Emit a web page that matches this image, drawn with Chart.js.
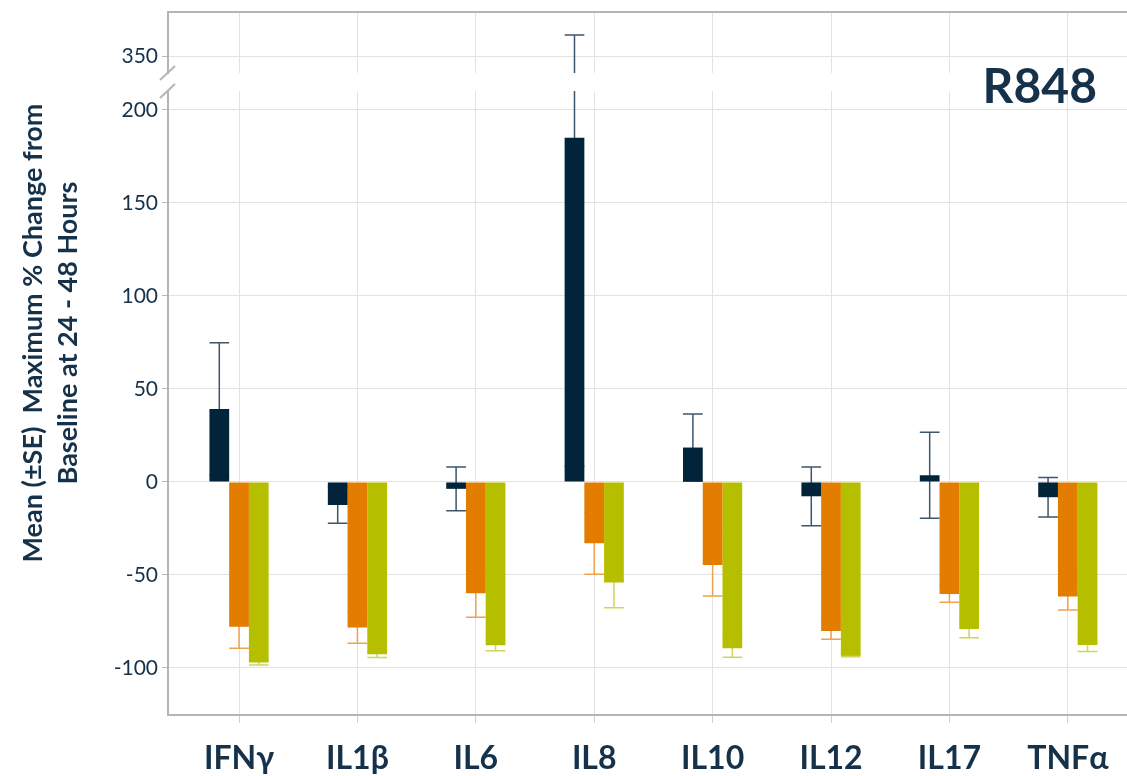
<!DOCTYPE html>
<html>
<head>
<meta charset="utf-8">
<script src="https://cdn.jsdelivr.net/npm/chart.js@4"></script>
<style>
  html, body { margin: 0; padding: 0; background: #fff; }
  #wrap { width: 1127px; height: 776px; }
</style>
</head>
<body>
<div id="wrap"><canvas id="cytoChart"></canvas></div>
<script>
const categories = ['IFNγ', 'IL1β', 'IL6', 'IL8', 'IL10', 'IL12', 'IL17', 'TNFα'];

const navyVals = [39.2, -12.4, -3.7, 185.0, 18.5, -7.7, 3.6, -8.2];
const navyErr = [35.7, 9.8, 11.8, 176.4, 18.1, 15.8, 23.1, 10.6];
const orangeVals = [-77.8, -78.3, -59.9, -33.0, -44.6, -80.1, -60.2, -61.6];
const orangeErr = [11.6, 8.4, 12.9, 16.6, 16.7, 4.5, 4.5, 7.2];
const greenVals = [-97.1, -92.7, -87.8, -54.1, -89.4, -93.5, -79.0, -87.6];
const greenErr = [1.3, 1.7, 2.9, 13.5, 4.9, 0.5, 4.7, 3.6];

const upperTicks = [350];
const lowerTicks = [-100, -50, 0, 50, 100, 150, 200];

const navy = '#02243a';
const textCol = '#15324a';
const axisGrey = '#b4b4b4';
const gridGrey = '#e2e2e2';

function toPoints(vals) {
    return vals.map((v, i) => ({ x: i + 1, y: v }));
}

// error bars, split across the broken axis
const errorBars = {
    id: 'errorBars',
    beforeDatasetsDraw(chart) {
        const ctx = chart.ctx;
        const area = chart.chartArea;
        const yLow = chart.scales.y;
        const yTop = chart.scales.yTop;
        const gap = chart.scales.yGap;

        // blank out the gap band and add the top frame line
        ctx.save();
        ctx.fillStyle = '#fff';
        ctx.fillRect(area.left + 1, gap.top, area.right - area.left, gap.bottom - gap.top);
        ctx.strokeStyle = axisGrey;
        ctx.lineWidth = 2;
        ctx.beginPath();
        ctx.moveTo(area.left, area.top);
        ctx.lineTo(area.right, area.top);
        ctx.stroke();
        ctx.restore();

        const pix = v => v > yLow.max ? yTop.getPixelForValue(v) : yLow.getPixelForValue(v);

        chart.data.datasets.forEach((ds, di) => {
            const meta = chart.getDatasetMeta(di);
            ctx.save();
            ctx.strokeStyle = ds.errColor;
            ctx.lineWidth = 1.5;
            meta.data.forEach((bar, i) => {
                const v = ds.data[i].y;
                const e = ds.errs[i];
                const hi = v + e, lo = v - e;
                const x = bar.x;
                const half = bar.width / 2;
                ctx.beginPath();
                if (hi > yLow.max) {
                    ctx.moveTo(x, pix(lo));
                    ctx.lineTo(x, yLow.top);
                    ctx.moveTo(x, yTop.bottom);
                    ctx.lineTo(x, pix(hi));
                } else {
                    ctx.moveTo(x, pix(lo));
                    ctx.lineTo(x, pix(hi));
                }
                ctx.moveTo(x - half, pix(hi));
                ctx.lineTo(x + half, pix(hi));
                ctx.moveTo(x - half, pix(lo));
                ctx.lineTo(x + half, pix(lo));
                ctx.stroke();
            });
            ctx.restore();
        });
    },
    afterDraw(chart) {
        const ctx = chart.ctx;
        const area = chart.chartArea;
        const gap = chart.scales.yGap;

        // axis break marks
        ctx.save();
        ctx.strokeStyle = axisGrey;
        ctx.lineWidth = 2;
        [gap.top, gap.bottom].forEach(y => {
            ctx.beginPath();
            ctx.moveTo(area.left - 8, y + 7);
            ctx.lineTo(area.left + 7, y - 7);
            ctx.stroke();
        });

        // panel label
        ctx.fillStyle = textCol;
        ctx.font = 'bold 48px Lato';
        ctx.textAlign = 'right';
        ctx.textBaseline = 'alphabetic';
        ctx.fillText('R848', 1097, 103);

        // y axis title
        ctx.translate(50, 333);
        ctx.rotate(-Math.PI / 2);
        ctx.font = 'bold 27px Lato';
        ctx.textAlign = 'center';
        ctx.textBaseline = 'middle';
        ctx.fillText('Mean (±SE)  Maximum % Change from', 0, -17);
        ctx.fillText('Baseline at 24 - 48 Hours', 0, 18);
        ctx.restore();
    }
};

function fixWidth(scale) {
    scale.width = 78;
    scale.paddingTop = 0;
    scale.paddingBottom = 0;
}

function makeChart() {
    const ctx = document.getElementById('cytoChart').getContext('2d');
    new Chart(ctx, {
        type: 'bar',
        data: {
            datasets: [
                { label: 'Navy', data: toPoints(navyVals), errs: navyErr, yAxisID: 'y', backgroundColor: navy, errColor: '#3d566b' },
                { label: 'Orange', data: toPoints(orangeVals), errs: orangeErr, yAxisID: 'y', backgroundColor: '#e27d00', errColor: '#eea24f' },
                { label: 'Green', data: toPoints(greenVals), errs: greenErr, yAxisID: 'y', backgroundColor: '#b6be00', errColor: '#d0d55a' }
            ]
        },
        options: {
            responsive: true,
            maintainAspectRatio: false,
            animation: false,
            categoryPercentage: 0.5,
            barPercentage: 1.0,
            layout: { padding: { left: 90, top: 12, right: 0, bottom: 0 } },
            plugins: {
                legend: { display: false },
                tooltip: { enabled: false }
            },
            scales: {
                x: {
                    type: 'linear',
                    position: 'bottom',
                    offset: false,
                    min: 0.4,
                    max: 8.5,
                    afterFit: s => { s.height = 61; },
                    ticks: {
                        stepSize: 1,
                        includeBounds: false,
                        autoSkip: false,
                        maxRotation: 0,
                        padding: 16,
                        color: textCol,
                        font: { family: 'Lato', size: 32, weight: 'bold' },
                        callback: v => categories[v - 1] || ''
                    },
                    grid: { offset: false, color: gridGrey, tickLength: 8, tickColor: '#cfcfcf' },
                    border: { color: axisGrey, width: 2 }
                },
                yTop: {
                    type: 'linear',
                    position: 'left',
                    stack: 'v',
                    stackWeight: 61,
                    weight: 3,
                    min: 340.9,
                    max: 373.7,
                    afterFit: fixWidth,
                    afterBuildTicks: s => { s.ticks = upperTicks.map(v => ({ value: v })); },
                    ticks: { padding: 4, color: textCol, font: { family: 'Lato', size: 21 } },
                    grid: { color: gridGrey, tickLength: 6, tickColor: '#b8b8b8' },
                    border: { color: axisGrey, width: 2 }
                },
                yGap: {
                    type: 'linear',
                    position: 'left',
                    stack: 'v',
                    stackWeight: 18,
                    weight: 2,
                    min: 0,
                    max: 1,
                    afterFit: fixWidth,
                    ticks: { display: false },
                    grid: { display: false },
                    border: { display: false }
                },
                y: {
                    type: 'linear',
                    position: 'left',
                    stack: 'v',
                    stackWeight: 624,
                    weight: 1,
                    min: -125.3,
                    max: 210.2,
                    afterFit: fixWidth,
                    afterBuildTicks: s => { s.ticks = lowerTicks.map(v => ({ value: v })); },
                    ticks: { padding: 4, color: textCol, font: { family: 'Lato', size: 21 } },
                    grid: { color: gridGrey, tickLength: 6, tickColor: '#b8b8b8' },
                    border: { color: axisGrey, width: 2 }
                }
            }
        },
        plugins: [errorBars]
    });
}

document.addEventListener('DOMContentLoaded', () => {
    makeChart();
});
</script>
</body>
</html>
